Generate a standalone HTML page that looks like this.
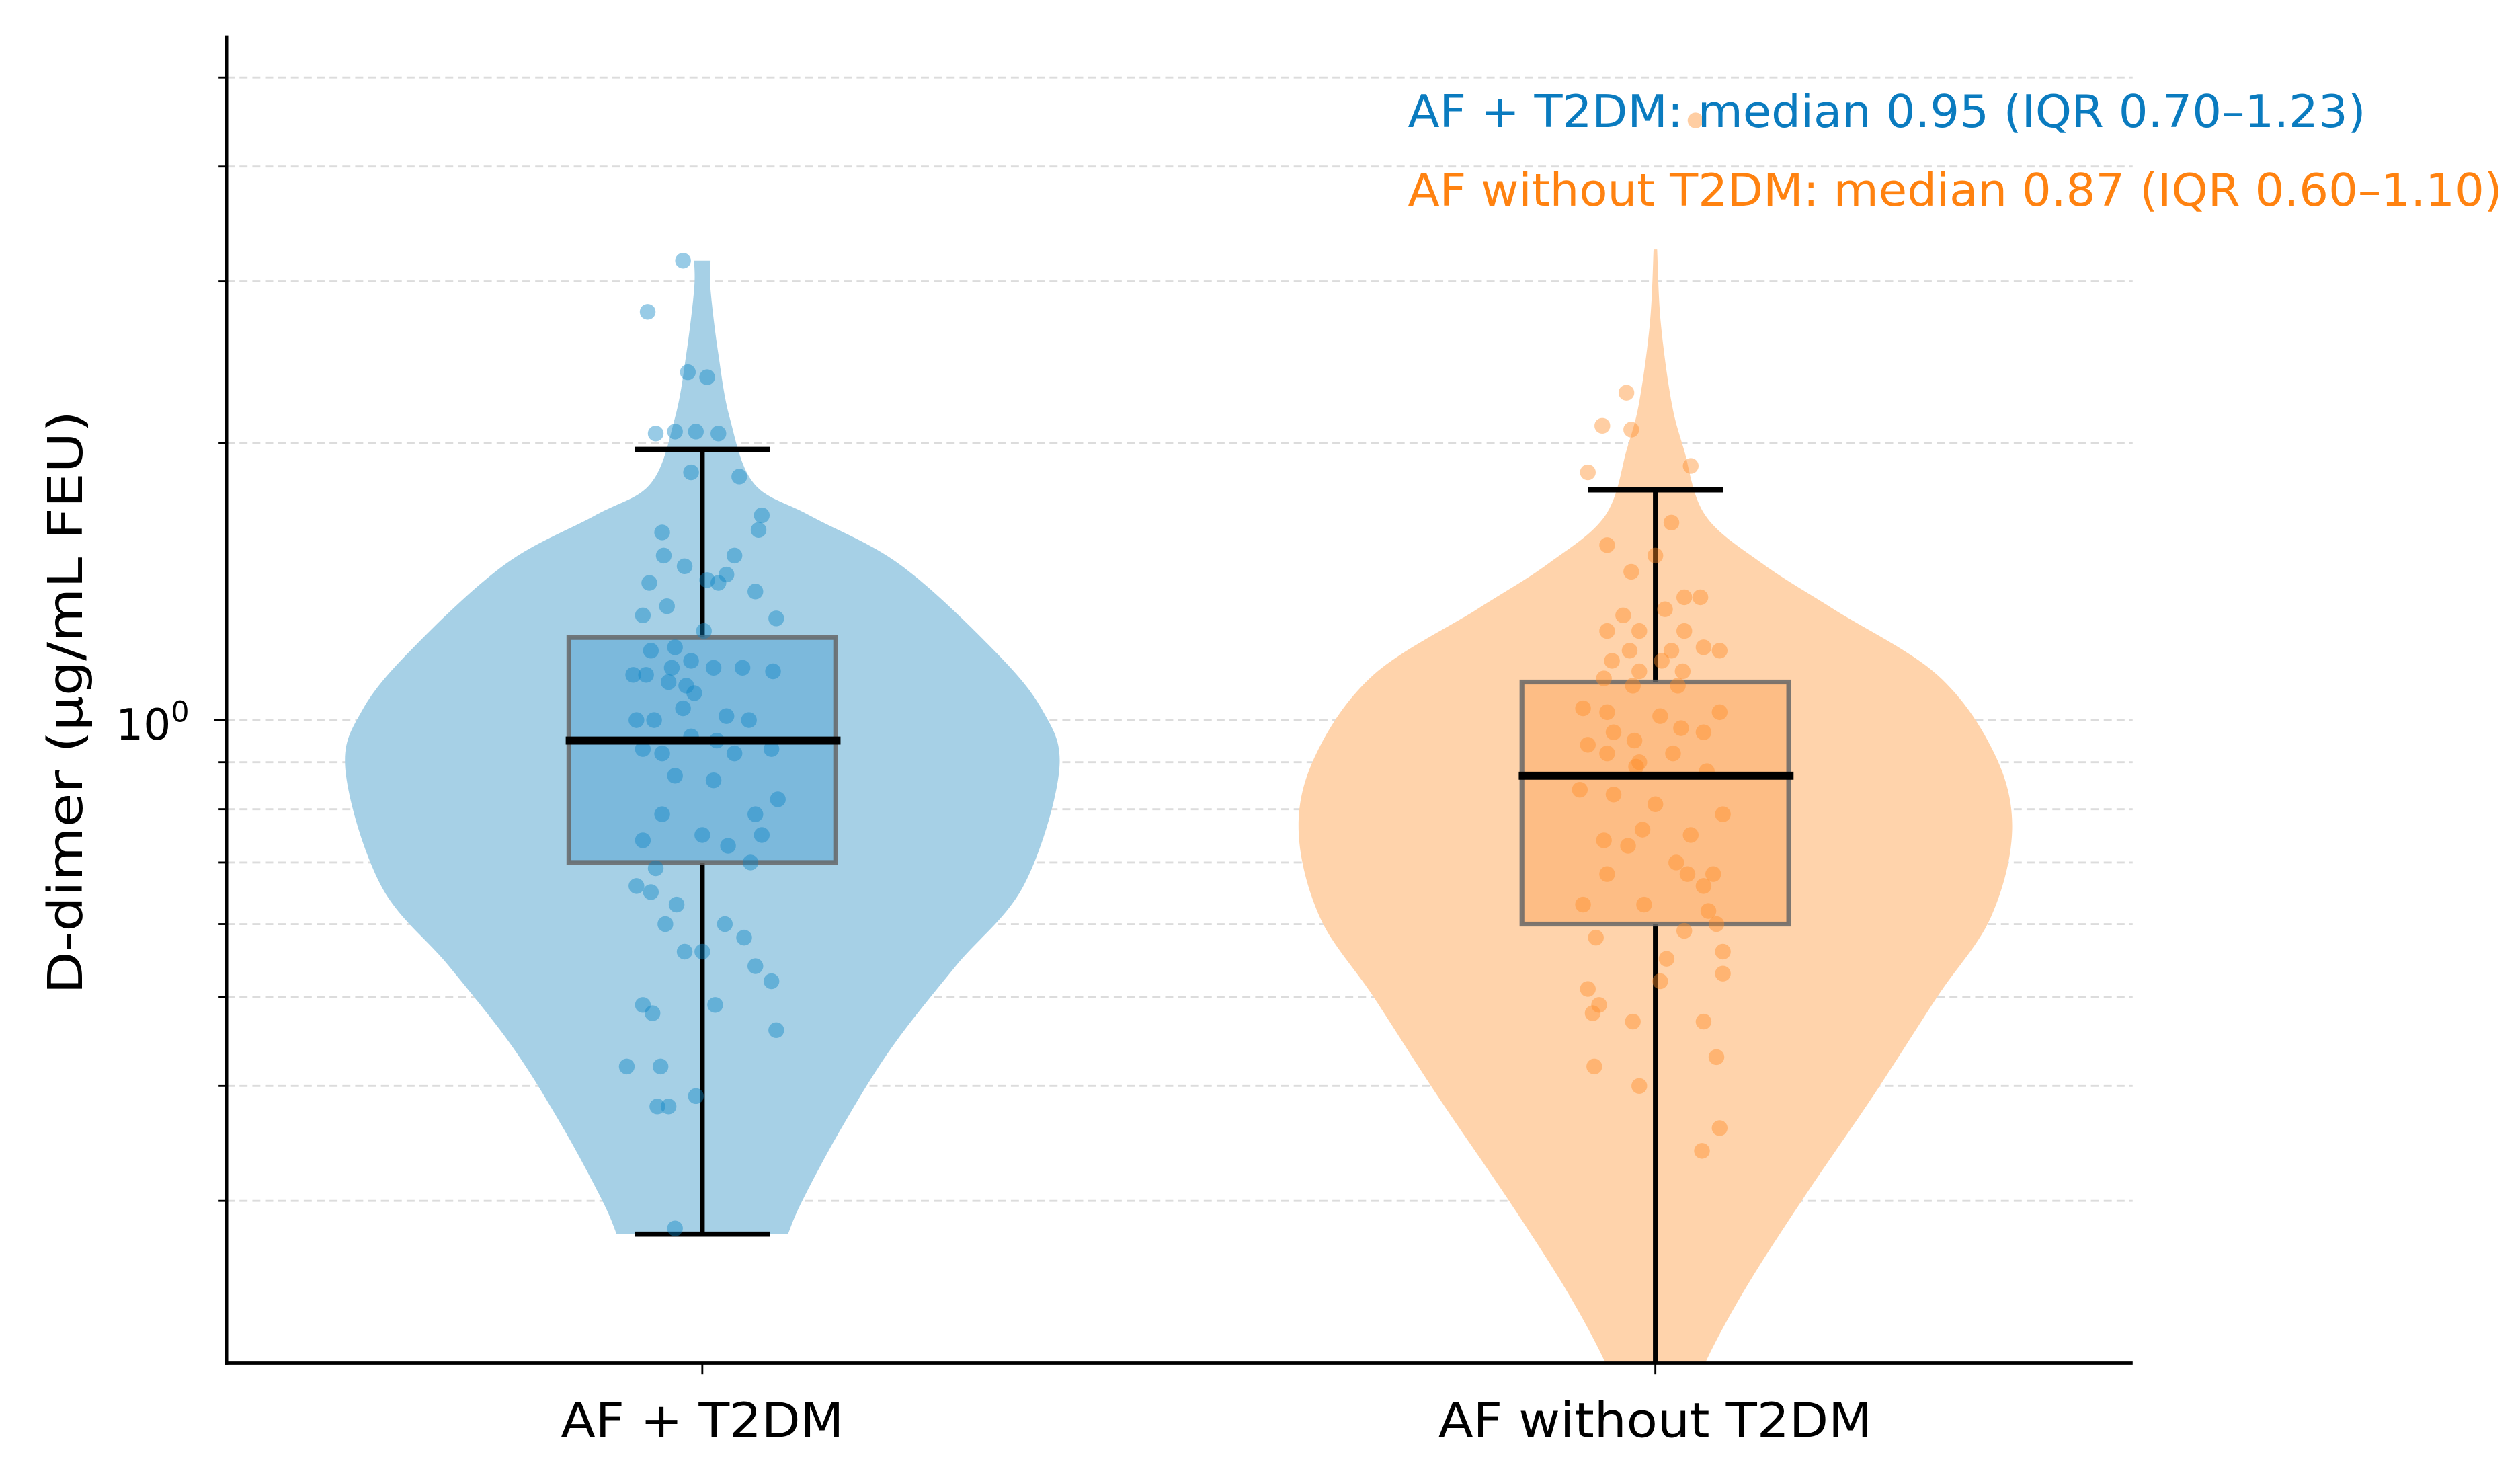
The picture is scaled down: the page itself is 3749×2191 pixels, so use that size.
<!DOCTYPE html>
<html><head><meta charset="utf-8"><style>
html,body{margin:0;padding:0;background:#fff;}
svg{display:block;font-family:"DejaVu Sans","Liberation Sans",sans-serif;}
</style></head><body>
<svg id="chart" width="3749" height="2191" viewBox="0 0 1568 916.4" preserveAspectRatio="none" xmlns="http://www.w3.org/2000/svg"></svg>
<script>
const categories = ["AF + T2DM", "AF without T2DM"];
const medians = [0.95, 0.87];
const q1s = [0.70, 0.60];
const q3s = [1.23, 1.10];
const whiskLo = [0.276, 0.15];
const whiskHi = [1.97, 1.78];
const annotations = ["AF + T2DM: median 0.95 (IQR 0.70\u20131.23)", "AF without T2DM: median 0.87 (IQR 0.60\u20131.10)"];
const gridValues = [0.3,0.4,0.5,0.6,0.7,0.8,0.9,1,2,3,4,5];
const violinValsA = [3.16,2.94,2.50,2.13,1.81,1.67,1.48,1.21,1.03,0.88,0.66,0.54,0.44,0.36,0.30,0.276];
const violinDensA = [0.023,0.023,0.045,0.077,0.144,0.30,0.55,0.80,0.95,1.0,0.90,0.71,0.53,0.39,0.28,0.24];
const violinValsB = [3.25,2.71,2.22,1.97,1.67,1.48,1.32,1.12,0.92,0.76,0.61,0.50,0.39,0.30,0.24,0.20,0.18];
const violinDensB = [0.005,0.015,0.045,0.08,0.14,0.30,0.50,0.79,0.95,1.0,0.94,0.79,0.61,0.41,0.25,0.14,0.10];
const pointsA = [3.16,2.78,2.39,2.36,2.05,2.06,2.06,2.05,1.86,1.84,1.67,1.61,1.60,1.51,1.47,1.51,1.44,1.41,1.42,1.41,1.38,1.33,1.30,1.25,1.29,1.20,1.19,1.16,1.14,1.14,1.12,1.12,1.14,1.13,1.10,1.09,1.07,1.00,1.00,1.03,1.01,1.00,0.96,0.95,0.93,0.92,0.92,0.93,0.87,0.86,0.82,0.79,0.79,0.74,0.75,0.73,0.75,0.69,0.70,0.66,0.65,0.63,0.60,0.60,0.56,0.56,0.58,0.54,0.52,0.49,0.49,0.48,0.46,0.42,0.42,0.39,0.38,0.38,0.28];
const jitterA = [-12,-34,-9,3,-29,-17,-4,10,-7,23,37,35,-25,-24,-11,20,15,-33,3,10,33,-22,-37,1,46,-17,-32,-7,-19,7,-43,-35,25,44,-21,-10,-5,-41,-30,-12,15,29,-7,9,-37,-25,20,43,-17,7,47,-25,33,-37,0,16,37,-29,30,-41,-32,-16,-23,14,-11,0,26,33,43,-37,8,-31,46,-47,-26,-4,-28,-21,-17];
const pointsB = [4.49,2.27,2.09,2.07,1.86,1.89,1.64,1.55,1.51,1.45,1.36,1.36,1.32,1.30,1.25,1.25,1.25,1.19,1.19,1.20,1.19,1.16,1.16,1.13,1.13,1.11,1.09,1.09,1.03,1.02,1.01,1.02,0.97,0.95,0.98,0.97,0.94,0.92,0.90,0.92,0.89,0.88,0.84,0.83,0.81,0.79,0.74,0.76,0.75,0.73,0.70,0.68,0.68,0.68,0.66,0.63,0.63,0.62,0.59,0.60,0.56,0.58,0.55,0.53,0.51,0.52,0.49,0.48,0.47,0.47,0.43,0.42,0.40,0.36,0.34];
const jitterB = [25,-18,-33,-15,-42,22,10,-30,0,-15,18,28,6,-20,-30,-10,18,-16,10,30,40,4,-27,-10,17,-32,-14,14,-45,-30,3,40,-26,-13,16,30,-42,-30,-10,11,-12,32,-47,-26,0,42,-32,-8,22,-17,13,-30,20,36,30,-45,-7,33,18,38,42,-37,7,42,-42,3,-35,-39,-14,30,38,-38,-10,40,29];

const NS = "http://www.w3.org/2000/svg";
const svg = document.getElementById("chart");
const X0 = 141, X1 = 1327, YTOP = 22, YBOT = 848;
const centers = [437, 1030];
const VHALF = 222;
function yScale(v){ return 448 - 572 * Math.log10(v); }
function xScale(i){ return centers[i]; }
function mk(tag, attrs, parent){
  const el = document.createElementNS(NS, tag);
  for (const k in attrs) el.setAttribute(k, attrs[k]);
  (parent || svg).appendChild(el);
  return el;
}
const defs = mk("defs", {});
const cp = mk("clipPath", {id: "plotclip"}, defs);
mk("rect", {x: X0, y: 0, width: X1 - X0, height: YBOT - 0}, cp);

const gridG = mk("g", {});


gridValues.forEach(v => {
  const y = yScale(v);
  const l = mk("line", {x1: X0, x2: X1, y1: y, y2: y, stroke: "#dcdcdc", "stroke-width": 1.2, "stroke-dasharray": "5,3"}, gridG);
  
  
});

const plotG = mk("g", {"clip-path": "url(#plotclip)"});



function smoothSide(pts){
  let d = "";
  for (let i = 0; i < pts.length; i++){
    const p = pts[i];
    if (i === 0){ d += "M" + p[0] + "," + p[1]; continue; }
    const p0 = pts[Math.max(0, i - 2)], p1 = pts[i - 1], p2 = p, p3 = pts[Math.min(pts.length - 1, i + 1)];
    const c1x = p1[0] + (p2[0] - p0[0]) / 6, c1y = p1[1] + (p2[1] - p0[1]) / 6;
    const c2x = p2[0] - (p3[0] - p1[0]) / 6, c2y = p2[1] - (p3[1] - p1[1]) / 6;
    d += " C" + c1x + "," + c1y + " " + c2x + "," + c2y + " " + p2[0] + "," + p2[1];
  }
  return d;
}
function violinPath(i, vals, dens){
  const cx = xScale(i);
  const right = vals.map((v, k) => [cx + dens[k] * VHALF, yScale(v)]);
  const left = vals.map((v, k) => [cx - dens[k] * VHALF, yScale(v)]).reverse();
  let d = smoothSide(right);
  d += " L" + left[0][0] + "," + left[0][1];
  d += smoothSide(left).replace(/^M[^ ]+/, "");
  return d + " Z";
}
const fills = ["#a6d0e6", "#ffd3ab"];
const boxFills = ["#74b5d9", "#fdb87e"];
const dotColors = ["#0a82c4", "#ff8a24"];
const violinData = [[violinValsA, violinDensA], [violinValsB, violinDensB]];
violinData.forEach((vd, i) => {
  const p = mk("path", {d: violinPath(i, vd[0], vd[1]), fill: fills[i]}, plotG);
  
  
});
categories.forEach((c, i) => {
  const cx = xScale(i);
  const g = mk("g", {}, plotG);
  
  
  const w1 = mk("line", {x1: cx, x2: cx, y1: yScale(q3s[i]), y2: yScale(whiskHi[i]), stroke: "#000", "stroke-width": 3}, g);
  
  
  const w2 = mk("line", {x1: cx, x2: cx, y1: yScale(q1s[i]), y2: yScale(whiskLo[i]), stroke: "#000", "stroke-width": 3}, g);
  
  
  const cap1 = mk("line", {x1: cx - 42, x2: cx + 42, y1: yScale(whiskHi[i]), y2: yScale(whiskHi[i]), stroke: "#000", "stroke-width": 3.2}, g);
  
  
  const cap2 = mk("line", {x1: cx - 42, x2: cx + 42, y1: yScale(whiskLo[i]), y2: yScale(whiskLo[i]), stroke: "#000", "stroke-width": 3.2}, g);
  
  
  const b = mk("rect", {x: cx - 83, width: 166, y: yScale(q3s[i]), height: yScale(q1s[i]) - yScale(q3s[i]), fill: boxFills[i], "fill-opacity": 0.85, stroke: "#666", "stroke-opacity": 0.85, "stroke-width": 3}, g);
  
  
});
const ptsData = [[pointsA, jitterA], [pointsB, jitterB]];
ptsData.forEach((pd, i) => {
  const g = mk("g", {}, plotG);
  
  
  pd[0].forEach((v, k) => {
    const c = mk("circle", {cx: xScale(i) + pd[1][k], cy: yScale(v), r: 4.9, fill: dotColors[i], "fill-opacity": 0.42}, g);
    
    
  });
});
categories.forEach((c, i) => {
  const cx = xScale(i);
  const m = mk("line", {x1: cx - 85, x2: cx + 86, y1: yScale(medians[i]), y2: yScale(medians[i]), stroke: "#000", "stroke-width": 5}, plotG);
  
  
});

const ax = mk("g", {});


const ys = mk("line", {x1: X0, x2: X0, y1: YTOP, y2: YBOT + 1, stroke: "#000", "stroke-width": 2}, ax);


const xs = mk("line", {x1: X0 - 1, x2: X1, y1: YBOT, y2: YBOT, stroke: "#000", "stroke-width": 2}, ax);


gridValues.forEach(v => {
  const y = yScale(v);
  const len = v === 1 ? 8 : 5;
  const t = mk("line", {x1: X0 - len, x2: X0, y1: y, y2: y, stroke: "#000", "stroke-width": v === 1 ? 1.6 : 1.2}, ax);
  
  
});
const yl = mk("text", {x: 72, y: 460, "font-size": 27, fill: "#000"}, ax);
yl.textContent = "10";


const sup = mk("tspan", {dy: -11, "font-size": 18}, yl);
sup.textContent = "0";
const yt = mk("text", {x: 0, y: 0, "text-anchor": "middle", "font-size": 30, fill: "#000", transform: "translate(51,437) rotate(-90)", textLength: 363, lengthAdjust: "spacingAndGlyphs"}, ax);
yt.textContent = "D-dimer (\u03bcg/mL FEU)";


categories.forEach((c, i) => {
  const t = mk("line", {x1: xScale(i), x2: xScale(i), y1: YBOT, y2: YBOT + 7, stroke: "#000", "stroke-width": 1.2}, ax);
  
  
  const tl = mk("text", {x: xScale(i), y: 894, "text-anchor": "middle", "font-size": 30, fill: "#000", textLength: i === 0 ? 176 : 270, lengthAdjust: "spacingAndGlyphs"}, ax);
  tl.textContent = c;
  
  
});
const annColors = ["#0a7bbf", "#ff8210"];
const annWidths = [596, 681];
annotations.forEach((a, i) => {
  const t = mk("text", {x: 876, y: 79 + i * 49, "font-size": 28, fill: annColors[i], textLength: annWidths[i], lengthAdjust: "spacingAndGlyphs"});
  t.textContent = a;
  
  
});
</script>
</body></html>
